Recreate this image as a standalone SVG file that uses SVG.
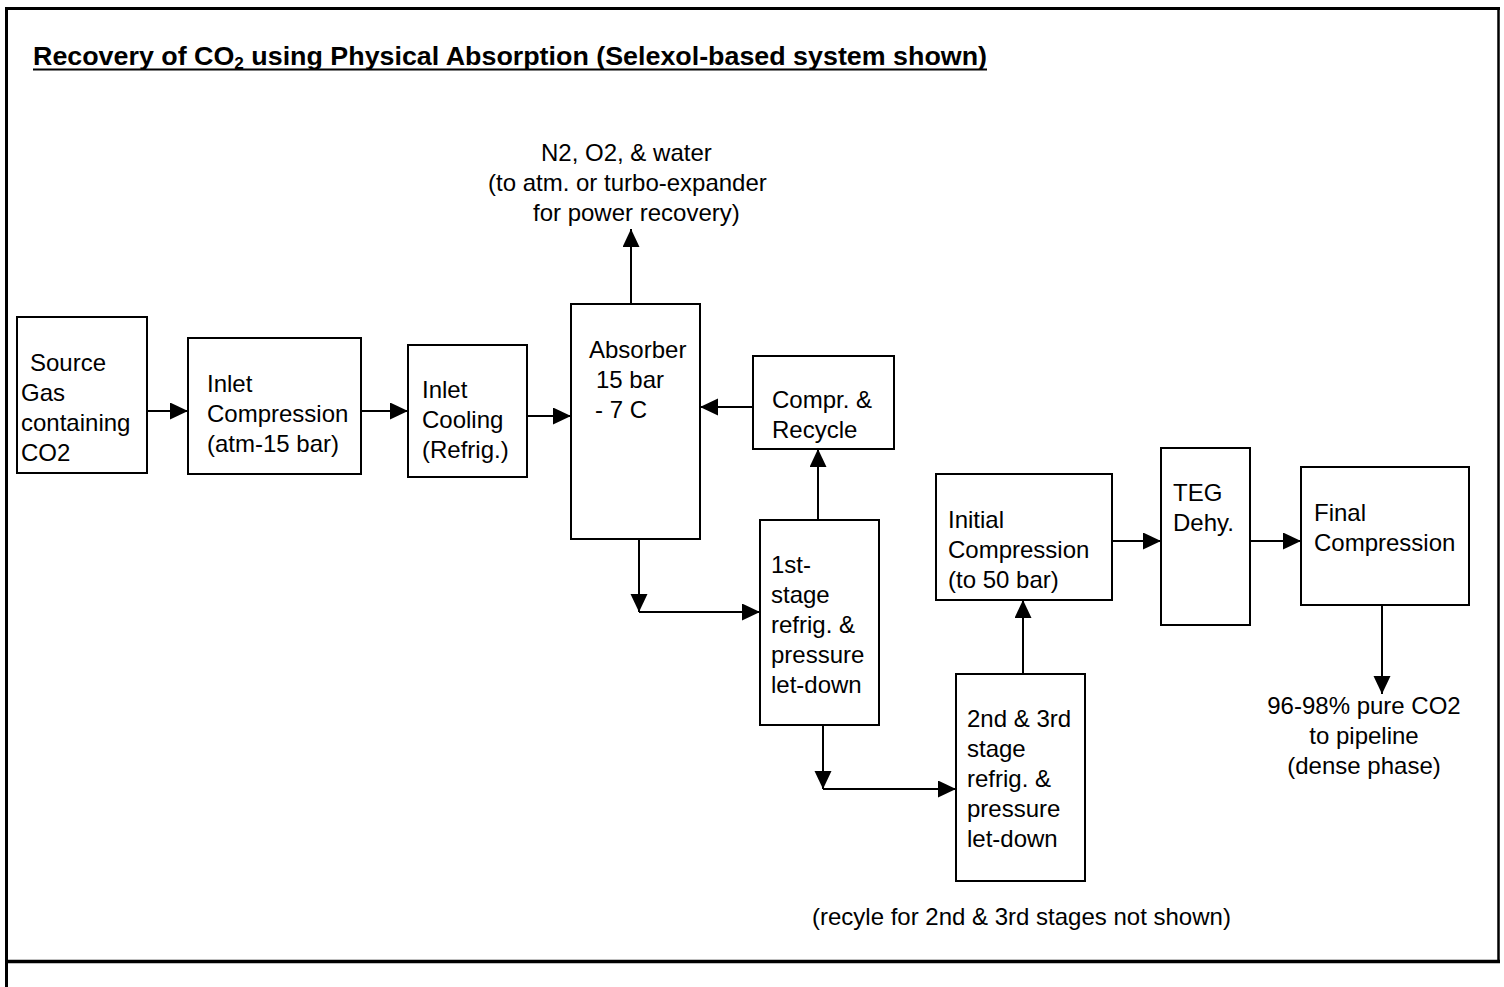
<svg xmlns="http://www.w3.org/2000/svg" width="1504" height="987" viewBox="0 0 1504 987">
<style>
.box{fill:#fff;stroke:#000;stroke-width:2}
.t{font-family:"Liberation Sans",Arial,sans-serif;font-size:24px;fill:#000}
.c{fill:none;stroke:#000;stroke-width:2}
.a{marker-end:url(#ah)}
.frame{stroke:#000;fill:none}
</style>
<defs>
<marker id="ah" markerUnits="userSpaceOnUse" markerWidth="19" markerHeight="18" refX="18" refY="8.5" orient="auto">
<path d="M0,0 L18,8.5 L0,17 z" fill="#000"/>
</marker>
</defs>
<rect width="1504" height="987" fill="#fff"/>
<g id="frame">
<line class="frame" x1="6.5" y1="7" x2="6.5" y2="987" stroke-width="3"/>
<line class="frame" x1="5" y1="8.5" x2="1500" y2="8.5" stroke-width="3"/>
<line class="frame" x1="1498.5" y1="7" x2="1498.5" y2="963" stroke-width="2.5"/>
<line class="frame" x1="5" y1="961.5" x2="1500" y2="961.5" stroke-width="3.5"/>
</g>
<g id="title">
<text x="33" y="65" font-family="'Liberation Sans',Arial,sans-serif" font-size="25" font-weight="bold" textLength="954" lengthAdjust="spacingAndGlyphs">Recovery of CO<tspan font-size="16" dy="4">2</tspan><tspan dy="-4"> using Physical Absorption (Selexol-based system shown)</tspan></text>
<line x1="33" y1="69.5" x2="987" y2="69.5" stroke="#000" stroke-width="2"/>
</g>
<g id="connectors">
<path class="c a" d="M147,411 H188"/>
<path class="c a" d="M361,411 H408"/>
<path class="c a" d="M527,416 H571"/>
<path class="c a" d="M631,304 V229"/>
<path class="c a" d="M753,407 H700"/>
<path class="c a" d="M818,520 V449"/>
<path class="c a" d="M639,539 V612"/>
<path class="c a" d="M639,612 H760"/>
<path class="c a" d="M823,725 V789"/>
<path class="c a" d="M823,789 H956"/>
<path class="c a" d="M1023,674 V600"/>
<path class="c a" d="M1112,541 H1161"/>
<path class="c a" d="M1250,541 H1301"/>
<path class="c a" d="M1382,605 V694"/>
</g>
<g id="source">
<rect class="box" x="17" y="317" width="130" height="156"/>
<text class="t"><tspan x="30" y="371">Source</tspan><tspan x="21" y="401">Gas</tspan><tspan x="21" y="431">containing</tspan><tspan x="21" y="461">CO2</tspan></text>
</g>
<g id="inlet-compression">
<rect class="box" x="188" y="338" width="173" height="136"/>
<text class="t"><tspan x="207" y="392">Inlet</tspan><tspan x="207" y="422">Compression</tspan><tspan x="207" y="452">(atm-15 bar)</tspan></text>
</g>
<g id="inlet-cooling">
<rect class="box" x="408" y="345" width="119" height="132"/>
<text class="t"><tspan x="422" y="398">Inlet</tspan><tspan x="422" y="428">Cooling</tspan><tspan x="422" y="458">(Refrig.)</tspan></text>
</g>
<g id="absorber">
<rect class="box" x="571" y="304" width="129" height="235"/>
<text class="t"><tspan x="589" y="358">Absorber</tspan><tspan x="596" y="388">15 bar</tspan><tspan x="595" y="418">- 7 C</tspan></text>
</g>
<g id="vent-label">
<text class="t"><tspan x="541" y="161">N2, O2, &amp; water</tspan><tspan x="488" y="191">(to atm. or turbo-expander</tspan><tspan x="533" y="221">for power recovery)</tspan></text>
</g>
<g id="compr-recycle">
<rect class="box" x="753" y="356" width="141" height="93"/>
<text class="t"><tspan x="772" y="408">Compr. &amp;</tspan><tspan x="772" y="438">Recycle</tspan></text>
</g>
<g id="first-stage">
<rect class="box" x="760" y="520" width="119" height="205"/>
<text class="t"><tspan x="771" y="573">1st-</tspan><tspan x="771" y="603">stage</tspan><tspan x="771" y="633">refrig. &amp;</tspan><tspan x="771" y="663">pressure</tspan><tspan x="771" y="693">let-down</tspan></text>
</g>
<g id="second-third-stage">
<rect class="box" x="956" y="674" width="129" height="207"/>
<text class="t"><tspan x="967" y="727">2nd &amp; 3rd</tspan><tspan x="967" y="757">stage</tspan><tspan x="967" y="787">refrig. &amp;</tspan><tspan x="967" y="817">pressure</tspan><tspan x="967" y="847">let-down</tspan></text>
</g>
<g id="initial-compression">
<rect class="box" x="936" y="474" width="176" height="126"/>
<text class="t"><tspan x="948" y="528">Initial</tspan><tspan x="948" y="558">Compression</tspan><tspan x="948" y="588">(to 50 bar)</tspan></text>
</g>
<g id="teg-dehy">
<rect class="box" x="1161" y="448" width="89" height="177"/>
<text class="t"><tspan x="1173" y="501">TEG</tspan><tspan x="1173" y="531">Dehy.</tspan></text>
</g>
<g id="final-compression">
<rect class="box" x="1301" y="467" width="168" height="138"/>
<text class="t"><tspan x="1314" y="521">Final</tspan><tspan x="1314" y="551">Compression</tspan></text>
</g>
<g id="product-label">
<text class="t" text-anchor="middle"><tspan x="1364" y="714">96-98% pure CO2</tspan><tspan x="1364" y="744">to pipeline</tspan><tspan x="1364" y="774">(dense phase)</tspan></text>
</g>
<g id="note">
<text class="t" x="812" y="925">(recyle for 2nd &amp; 3rd stages not shown)</text>
</g>
</svg>
